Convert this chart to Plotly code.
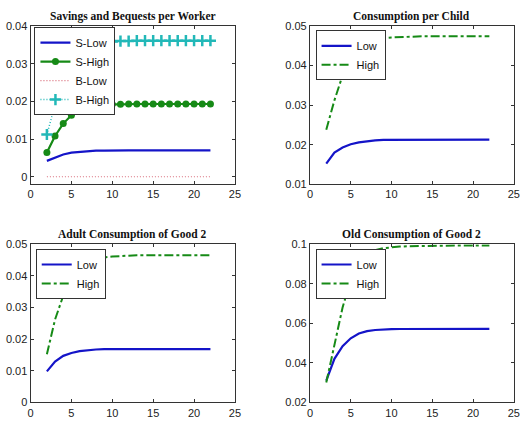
import plotly.graph_objects as go

periods = list(range(2, 23))

titles = ["Savings and Bequests per Worker", "Consumption per Child",
          "Adult Consumption of Good 2", "Old Consumption of Good 2"]

# Panel 1: savings and bequests per worker
s_low = [0.0042, 0.0051, 0.0059, 0.0064, 0.0066, 0.0068, 0.0069, 0.0069, 0.0070, 0.0070,
         0.0070, 0.0070, 0.0070, 0.0070, 0.0070, 0.0070, 0.0070, 0.0070, 0.0070, 0.0070, 0.0070]
s_high = [0.0064, 0.0108, 0.0141, 0.0163, 0.0177, 0.0185, 0.0189, 0.0191, 0.0192, 0.0192,
          0.0193, 0.0193, 0.0193, 0.0193, 0.0193, 0.0193, 0.0193, 0.0193, 0.0193, 0.0193, 0.0193]
b_low = [0.0] * 21
b_high = [0.0112, 0.0191, 0.0270, 0.0310, 0.0333, 0.0346, 0.0353, 0.0357, 0.0359, 0.0360,
          0.0360, 0.0361, 0.0361, 0.0361, 0.0361, 0.0361, 0.0361, 0.0361, 0.0361, 0.0361, 0.0361]

# Panel 2: consumption per child
child_low = [0.0152, 0.0180, 0.0193, 0.0201, 0.0206, 0.0209, 0.0211, 0.0212, 0.0212, 0.0212,
             0.0213, 0.0213, 0.0213, 0.0213, 0.0213, 0.0213, 0.0213, 0.0213, 0.0213, 0.0213, 0.0213]
child_high = [0.0238, 0.0312, 0.0375, 0.0415, 0.0440, 0.0455, 0.0464, 0.0469, 0.0471, 0.0472,
              0.0473, 0.0473, 0.0474, 0.0474, 0.0474, 0.0474, 0.0474, 0.0474, 0.0474, 0.0474, 0.0474]

# Panel 3: adult consumption of good 2
adult_low = [0.0098, 0.0129, 0.0147, 0.0156, 0.0162, 0.0165, 0.0167, 0.0168, 0.0168, 0.0168,
             0.0168, 0.0168, 0.0168, 0.0168, 0.0168, 0.0168, 0.0168, 0.0168, 0.0168, 0.0168, 0.0168]
adult_high = [0.0152, 0.0262, 0.0337, 0.0388, 0.0420, 0.0440, 0.0452, 0.0458, 0.0461, 0.0463,
              0.0464, 0.0465, 0.0465, 0.0465, 0.0465, 0.0465, 0.0465, 0.0465, 0.0465, 0.0465, 0.0465]

# Panel 4: old consumption of good 2
old_low = [0.0310, 0.0420, 0.0484, 0.0524, 0.0548, 0.0560, 0.0566, 0.0569, 0.0570, 0.0571,
           0.0571, 0.0572, 0.0572, 0.0572, 0.0572, 0.0572, 0.0572, 0.0572, 0.0572, 0.0572, 0.0572]
old_high = [0.0300, 0.0490, 0.0680, 0.0820, 0.0900, 0.0945, 0.0970, 0.0980, 0.0985, 0.0988,
            0.0990, 0.0991, 0.0992, 0.0993, 0.0993, 0.0993, 0.0993, 0.0993, 0.0993, 0.0993, 0.0993]

x_ticks = [0, 5, 10, 15, 20, 25]
y_ticks = [
    ([0, 0.01, 0.02, 0.03, 0.04], ["0", "0.01", "0.02", "0.03", "0.04"]),
    ([0.01, 0.02, 0.03, 0.04, 0.05], ["0.01", "0.02", "0.03", "0.04", "0.05"]),
    ([0, 0.01, 0.02, 0.03, 0.04, 0.05], ["0", "0.01", "0.02", "0.03", "0.04", "0.05"]),
    ([0.02, 0.04, 0.06, 0.08, 0.1], ["0.02", "0.04", "0.06", "0.08", "0.1"]),
]
y_ranges = [[-0.002, 0.04], [0.01, 0.05], [0, 0.05], [0.02, 0.1]]

W, H = 526, 446
BLUE = "#1414c8"
GREEN = "#168a16"
CYAN = "#22b8b8"
RED = "#d86a78"

fig = go.Figure()

def add(xa, ya, y, name, legend, color, dash="solid", width=2.2, mode="lines", marker=None):
    fig.add_trace(go.Scatter(
        x=periods, y=y, name=name, mode=mode, xaxis=xa, yaxis=ya, legend=legend,
        line=dict(color=color, width=width, dash=dash),
        marker=marker, showlegend=True))

add("x", "y", s_low, "S-Low", "legend", BLUE)
add("x", "y", s_high, "S-High", "legend", GREEN, mode="lines+markers",
    marker=dict(symbol="circle", size=7, color=GREEN))
add("x", "y", b_low, "B-Low", "legend", RED, dash="1px,2px", width=1.2)
add("x", "y", b_high, "B-High", "legend", CYAN, dash="1px,2px", width=1.5, mode="lines+markers",
    marker=dict(symbol="cross-thin", size=8, line=dict(color=CYAN, width=2.5)))

add("x2", "y2", child_low, "Low", "legend2", BLUE)
add("x2", "y2", child_high, "High", "legend2", GREEN, dash="dashdot", width=2)
add("x3", "y3", adult_low, "Low", "legend3", BLUE)
add("x3", "y3", adult_high, "High", "legend3", GREEN, dash="dashdot", width=2)
add("x4", "y4", old_low, "Low", "legend4", BLUE)
add("x4", "y4", old_high, "High", "legend4", GREEN, dash="dashdot", width=2)

xdom_left = [28 / W, 236 / W]
xdom_right = [312.3 / W, 519.7 / W]
ydom_top = [1 - 183.2 / H, 1 - 20.5 / H]
ydom_bot = [1 - 407.3 / H, 1 - 244.8 / H]
doms = [(xdom_left, ydom_top), (xdom_right, ydom_top), (xdom_left, ydom_bot), (xdom_right, ydom_bot)]

tickfont = dict(family="Liberation Sans, Arial, sans-serif", size=11, color="#222")
layout = {}
for i, (xd, yd) in enumerate(doms):
    sfx = "" if i == 0 else str(i + 1)
    tv, tt = y_ticks[i]
    layout["xaxis" + sfx] = dict(
        domain=xd, anchor="y" + sfx, range=[0, 25], tickvals=x_ticks,
        ticktext=[str(v) for v in x_ticks], showgrid=False, zeroline=False,
        showline=True, linecolor="#333", linewidth=1, mirror="ticks",
        ticks="inside", ticklen=3, tickcolor="#333", tickfont=tickfont)
    layout["yaxis" + sfx] = dict(
        domain=yd, anchor="x" + sfx, range=y_ranges[i], tickvals=tv, ticktext=tt,
        showgrid=False, zeroline=False, showline=True, linecolor="#333", linewidth=1,
        mirror="ticks", ticks="inside", ticklen=3, tickcolor="#333", tickfont=tickfont)

annotations = []
for i, (xd, yd) in enumerate(doms):
    annotations.append(dict(
        text="<b>" + titles[i] + "</b>", x=(xd[0] + xd[1]) / 2, y=yd[1],
        xref="paper", yref="paper", xanchor="center", yanchor="bottom", yshift=1,
        showarrow=False,
        font=dict(family="Liberation Serif, Times New Roman, serif", size=11.5, color="#111")))

legfont = dict(family="Liberation Sans, Arial, sans-serif", size=11, color="#111")
def leg(x, y):
    return dict(x=x, y=y, xref="paper", yref="paper", xanchor="left", yanchor="top",
                bgcolor="white", bordercolor="#333", borderwidth=1, font=legfont,
                tracegroupgap=0, itemwidth=30)

fig.update_layout(
    width=W, height=H, margin=dict(l=0, r=0, t=0, b=0),
    paper_bgcolor="white", plot_bgcolor="white",
    annotations=annotations,
    legend=leg(32 / W, 1 - 21.7 / H),
    legend2=leg(318 / W, 1 - 25 / H),
    legend3=leg(33.3 / W, 1 - 249.7 / H),
    legend4=leg(318 / W, 1 - 249.7 / H),
    **layout)

fig.write_html("out.html")
